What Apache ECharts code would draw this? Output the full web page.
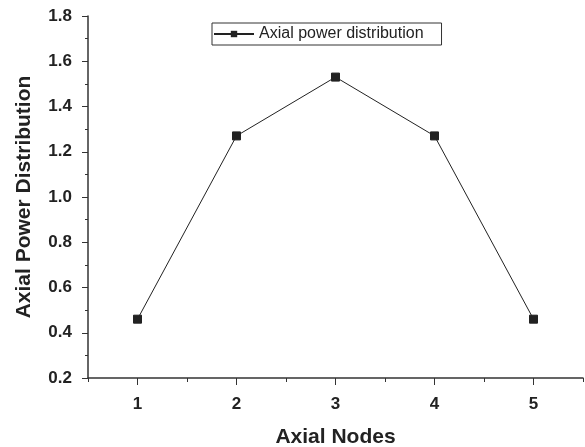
<!DOCTYPE html>
<html>
<head>
<meta charset="utf-8">
<script src="https://cdn.jsdelivr.net/npm/echarts@6/dist/echarts.min.js"></script>
<style>
  html, body { margin: 0; padding: 0; background: #fff; }
  #chart { width: 585px; height: 447px; }
</style>
</head>
<body>
<div id="chart"></div>
<script>
// Axial power profile across the five axial nodes
const nodes = [1, 2, 3, 4, 5];
const powerValues = [0.46, 1.27, 1.53, 1.27, 0.46];
const yTicks = [0.2, 0.4, 0.6, 0.8, 1.0, 1.2, 1.4, 1.6, 1.8];
const xTicks = [1, 2, 3, 4, 5];

const FONT = '"Liberation Sans", Arial, sans-serif';
const INK = '#222';
const AXIS = '#333';

const chart = echarts.init(document.getElementById('chart'), null, { renderer: 'canvas' });

const baseX = {
  type: 'value',
  min: 0.5,
  max: 5.5,
  position: 'bottom',
  splitLine: { show: false }
};

chart.setOption({
  backgroundColor: '#fff',
  animation: false,
  grid: { left: 88, right: 2, top: 16, bottom: 69, containLabel: false, outerBoundsMode: 'none' },
  legend: {
    left: 212,
    top: 23,
    padding: [3, 18, 3, 1],
    itemWidth: 40,
    itemHeight: 8,
    itemGap: 5,
    borderColor: '#333',
    borderWidth: 1,
    textStyle: { fontFamily: FONT, fontSize: 16, color: INK },
    data: ['Axial power distribution']
  },
  xAxis: [
    Object.assign({}, baseX, {
      interval: 0.5,
      name: 'Axial Nodes',
      nameLocation: 'middle',
      nameGap: 49,
      nameTextStyle: { fontFamily: FONT, fontSize: 21, fontWeight: 'bold', color: INK },
      axisLine: { onZero: false, lineStyle: { color: AXIS, width: 1.5 } },
      axisTick: { inside: false, length: 4, lineStyle: { color: AXIS, width: 1 } },
      axisLabel: {
        margin: 18,
        fontFamily: FONT, fontSize: 17, fontWeight: 'bold', color: INK,
        customValues: xTicks,
        formatter: v => String(v)
      }
    }),
    Object.assign({}, baseX, {
      axisLine: { show: false },
      axisTick: { inside: false, length: 7, customValues: xTicks, lineStyle: { color: AXIS, width: 1 } },
      axisLabel: { show: false }
    })
  ],
  yAxis: {
    type: 'value',
    min: 0.2,
    max: 1.8,
    interval: 0.2,
    name: 'Axial Power Distribution',
    nameLocation: 'middle',
    nameGap: 53,
    nameTextStyle: { fontFamily: FONT, fontSize: 21, fontWeight: 'bold', color: INK },
    splitLine: { show: false },
    axisLine: { onZero: false, lineStyle: { color: AXIS, width: 1.5 } },
    axisTick: { inside: false, length: 6, lineStyle: { color: AXIS, width: 1 } },
    minorTick: { show: true, splitNumber: 2, length: 3, lineStyle: { color: AXIS, width: 1 } },
    axisLabel: {
      margin: 16,
      fontFamily: FONT, fontSize: 17, fontWeight: 'bold', color: INK,
      customValues: yTicks,
      formatter: v => v.toFixed(1)
    }
  },
  series: [{
    name: 'Axial power distribution',
    type: 'line',
    xAxisIndex: 0,
    data: nodes.map((n, i) => [n, powerValues[i]]),
    symbol: 'rect',
    symbolSize: 8,
    showAllSymbol: true,
    lineStyle: { color: INK, width: 1 },
    itemStyle: { color: INK, borderColor: INK },
    emphasis: { disabled: true }
  }]
});
</script>
</body>
</html>
